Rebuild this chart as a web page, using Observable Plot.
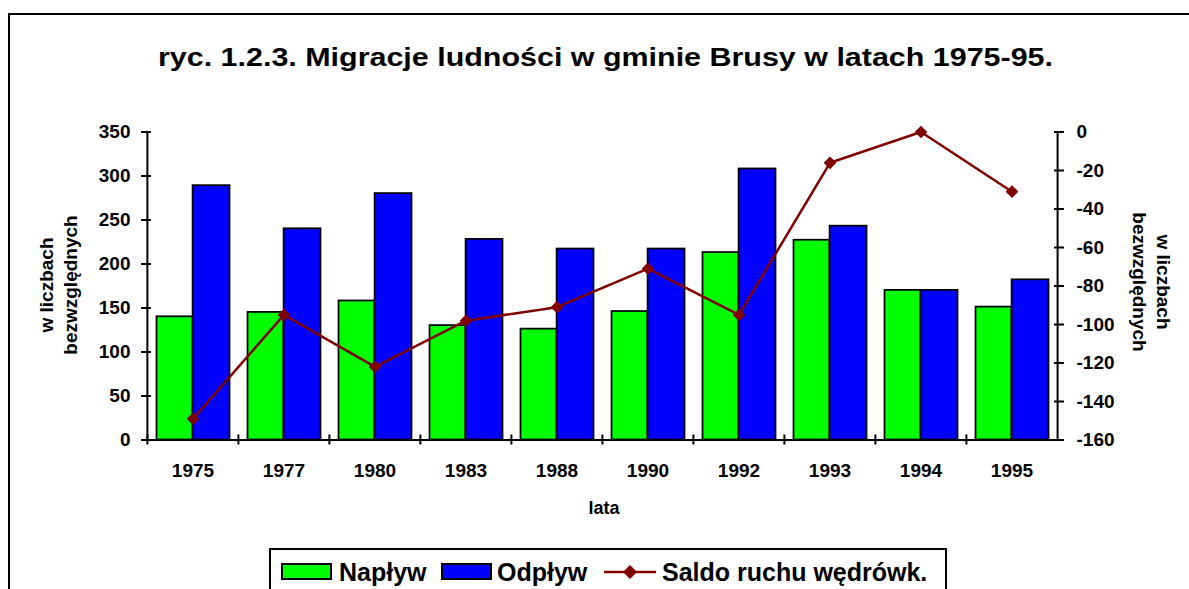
<!DOCTYPE html>
<html><head><meta charset="utf-8">
<script src="https://cdn.jsdelivr.net/npm/d3@7"></script>
<script src="https://cdn.jsdelivr.net/npm/@observablehq/plot@0.6"></script>
<style>
body{margin:0;background:#fff;}
#wrap{position:relative;width:1189px;height:589px;overflow:hidden;font-family:"Liberation Sans",Arial,sans-serif;font-weight:bold;color:#000;background:#fff;}
#frame{position:absolute;left:8px;top:13px;width:1300px;height:700px;border-left:2.5px solid #000;border-top:2.5px solid #000;}
#chart{position:absolute;left:0;top:0;}
#title{position:absolute;left:158px;top:45px;font-size:25px;line-height:25px;white-space:nowrap;transform-origin:0 0;}
.ylab{position:absolute;width:200px;text-align:center;font-size:19px;line-height:24px;white-space:nowrap;}
#ylabL{left:-41px;top:261px;transform:rotate(-90deg);}
#ylabR{left:1051px;top:258px;transform:rotate(90deg);}
#xlab{position:absolute;left:554px;width:100px;text-align:center;top:497px;font-size:18px;line-height:22px;}
#legend{position:absolute;left:269px;top:548px;width:674px;height:80px;border:2px solid #000;}
.li{position:absolute;top:0;}
.lt{position:absolute;top:8px;font-size:25px;line-height:28px;white-space:nowrap;}
</style></head>
<body>
<div id="wrap">
  <div id="frame"></div>
  <div id="chart"></div>
  <div id="title"></div>
  <div class="ylab" id="ylabL"></div>
  <div class="ylab" id="ylabR"></div>
  <div id="xlab"></div>
  <div id="legend"></div>
</div>
<script>
// ---- data ----
const titleText = "ryc. 1.2.3. Migracje ludności w gminie Brusy w latach 1975-95.";
const yLabelLines = ["w liczbach", "bezwzględnych"];
const xLabel = "lata";
const seriesNames = ["Napływ", "Odpływ", "Saldo ruchu wędrówk."];
const years = ["1975","1977","1980","1983","1988","1990","1992","1993","1994","1995"];
const naplyw = [140,145,158,130,126,146,213,227,170,151];
const odplyw = [289,240,280,228,217,217,308,243,170,182];
const saldo = [-149,-95,-122,-98,-91,-71,-95,-16,0,-31];
const leftTicks = [0,50,100,150,200,250,300,350];
const rightTicks = [0,-20,-40,-60,-80,-100,-120,-140,-160];
const leftDomain = [0,350];
const rightDomain = [-160,0];

const colGreen = "#00ff00", colBlue = "#0000ff", colLine = "#800000";

const data = years.map((year,i)=>({year, naplyw:naplyw[i], odplyw:odplyw[i], saldo:saldo[i]}));
const toLeft = s => (s - rightDomain[0])/(rightDomain[1]-rightDomain[0])*(leftDomain[1]-leftDomain[0]) + leftDomain[0];
const fromLeft = p => Math.round((p - leftDomain[0])/(leftDomain[1]-leftDomain[0])*(rightDomain[1]-rightDomain[0]) + rightDomain[0]);

const W = 1189, H = 589, mL = 146, mR = 131, mT = 131.5, mB = 149.5;
const bw = (W - mL - mR)/years.length;
const half = bw/2;

const chart = Plot.plot({
  width: W, height: H,
  marginLeft: mL, marginRight: mR, marginTop: mT, marginBottom: mB,
  x: {type:"band", domain: years, padding: 0},
  y: {domain: leftDomain},
  style: {fontFamily:'"Liberation Sans", Arial, sans-serif', fontSize:"19px", fontWeight:"bold", color:"#000", background:"transparent", overflow:"visible"},
  marks: [
    Plot.barY(data, {x:"year", y:"naplyw", fill:colGreen, stroke:"#000", strokeWidth:1.75, insetLeft:9.5, insetRight:half}),
    Plot.barY(data, {x:"year", y:"odplyw", fill:colBlue, stroke:"#000", strokeWidth:1.75, insetLeft:half, insetRight:8.5}),
    Plot.ruleY([0], {stroke:"#000", strokeWidth:2}),
    Plot.ruleX([years[0]], {dx:-half, stroke:"#000", strokeWidth:2}),
    Plot.ruleX([years[years.length-1]], {dx:half, stroke:"#000", strokeWidth:2}),
    Plot.axisY({ticks:leftTicks, tickFormat:d=>String(d), tickSize:10, dx:5, tickPadding:11, strokeWidth:2, label:null}),
    Plot.axisY({anchor:"right", ticks:rightTicks.map(toLeft), tickFormat:fromLeft, tickSize:10, dx:-5, tickPadding:13, strokeWidth:2, label:null}),
    Plot.axisX({ticks:years, tickFormat:()=>"", tickSize:10, dy:-5, dx:-half, strokeWidth:2, label:null}),
    Plot.axisX({ticks:years, tickSize:0, tickPadding:23, label:null}),
    Plot.line(data, {x:"year", y:d=>toLeft(d.saldo), stroke:colLine, strokeWidth:2.5}),
    Plot.dot(data, {x:"year", y:d=>toLeft(d.saldo), symbol:"diamond2", r:5.7, fill:colLine, stroke:"none"})
  ]
});
document.getElementById("chart").appendChild(chart);

const t = document.getElementById("title");
t.textContent = titleText;
const tw = t.getBoundingClientRect().width;
t.style.transform = `scaleX(${895/tw})`;

document.getElementById("ylabL").innerHTML = yLabelLines.join("<br>");
document.getElementById("ylabR").innerHTML = yLabelLines.join("<br>");
document.getElementById("xlab").textContent = xLabel;

const lg = document.getElementById("legend");
const sw = (fill) => `<svg width="51" height="18"><rect x="1" y="1" width="49" height="15" fill="${fill}" stroke="#000" stroke-width="2"/></svg>`;
const lineSw = `<svg width="53" height="18"><line x1="0" y1="9" x2="52" y2="9" stroke="${colLine}" stroke-width="2.5"/><path d="M26,2L33,9L26,16L19,9Z" fill="${colLine}"/></svg>`;
lg.innerHTML =
  `<div class="li" style="left:10px;top:13px">${sw(colGreen)}</div>` +
  `<div class="lt" style="left:68px">${seriesNames[0]}</div>` +
  `<div class="li" style="left:170px;top:13px">${sw(colBlue)}</div>` +
  `<div class="lt" style="left:226px">${seriesNames[1]}</div>` +
  `<div class="li" style="left:333px;top:13px">${lineSw}</div>` +
  `<div class="lt" style="left:391px">${seriesNames[2]}</div>`;
</script>
</body></html>
